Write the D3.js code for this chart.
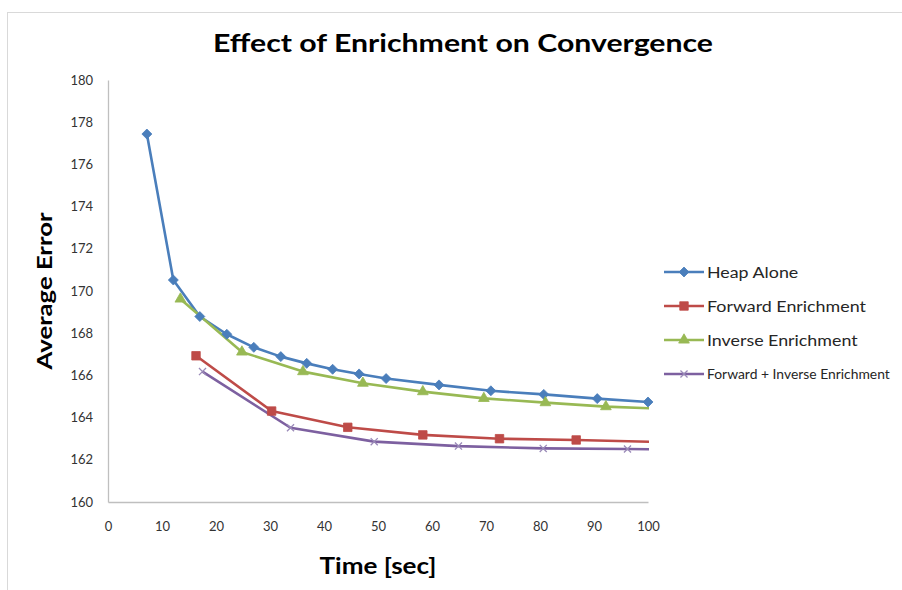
<!DOCTYPE html>
<html>
<head>
<meta charset="utf-8">
<script src="https://cdn.jsdelivr.net/npm/d3@7"></script>
<style>
  html, body { margin: 0; padding: 0; background: #fff; }
  svg { display: block; }
</style>
</head>
<body>
<div id="chart"></div>
<script>
// ---- data ----
const heapX = [7.2, 12.1, 17.0, 22.0, 27.0, 32.0, 36.8, 41.6, 46.5, 51.5, 61.3, 70.9, 80.7, 90.6, 100];
const heapY = [177.44, 170.52, 168.79, 167.95, 167.33, 166.89, 166.57, 166.29, 166.07, 165.85, 165.55, 165.27, 165.10, 164.90, 164.74];

const forwardX = [16.3, 30.3, 44.4, 58.3, 72.5, 86.7, 100.8];
const forwardY = [166.93, 164.31, 163.54, 163.18, 163.00, 162.94, 162.85];

const inverseX = [13.4, 24.8, 36.1, 47.2, 58.3, 69.6, 81.0, 92.2, 103.5];
const inverseY = [169.62, 167.11, 166.18, 165.63, 165.23, 164.91, 164.71, 164.52, 164.41];

const bothX = [17.5, 33.8, 49.3, 64.9, 80.6, 96.2, 111.8];
const bothY = [166.18, 163.52, 162.86, 162.65, 162.54, 162.51, 162.48];

const seriesNames = ["Heap Alone", "Forward Enrichment", "Inverse Enrichment", "Forward + Inverse Enrichment"];
const xTicks = [0, 10, 20, 30, 40, 50, 60, 70, 80, 90, 100];
const yTicks = [160, 162, 164, 166, 168, 170, 172, 174, 176, 178, 180];
const titleText = "Effect of Enrichment on Convergence";
const xTitle = "Time [sec]";
const yTitle = "Average Error";

// ---- layout ----
const W = 902, H = 590;
const plot = { left: 108, right: 648, top: 80, bottom: 502 };
const colors = ["#4A7EBB", "#BE4B48", "#98B954", "#7D60A0"];
const font = "Lato, 'Open Sans', sans-serif";

const svg = d3.select("#chart").append("svg").attr("width", W).attr("height", H);

// outer frame
svg.append("rect").attr("x", 7.5).attr("y", 12.5).attr("width", 1000).attr("height", 1000)
  .attr("fill", "#fff").attr("stroke", "#D9D9D9").attr("stroke-width", 1);

const x = d3.scaleLinear().domain([0, 100]).range([plot.left, plot.right]);
const y = d3.scaleLinear().domain([160, 180]).range([plot.bottom, plot.top]);

// axes
const gy = svg.append("g").attr("transform", `translate(${plot.left},0)`)
  .call(d3.axisLeft(y).tickValues(yTicks).tickSize(0).tickPadding(15).tickFormat(d3.format("d")));
const gx = svg.append("g").attr("transform", `translate(0,${plot.bottom})`)
  .call(d3.axisBottom(x).tickValues(xTicks).tickSize(0).tickPadding(20).tickFormat(d3.format("d")));
[gx, gy].forEach(g => {
  g.select(".domain").attr("stroke", "#BFBFBF").attr("stroke-width", 1.3);
  g.selectAll("text").attr("font-family", font).attr("font-size", 13).attr("fill", "#333");
});

// clip for lines
svg.append("clipPath").attr("id", "plotclip").append("rect")
  .attr("x", plot.left).attr("y", plot.top - 5)
  .attr("width", plot.right - plot.left + 1).attr("height", plot.bottom - plot.top + 10);

// marker symbol types
const diamond = { draw(ctx, size) { const r = Math.sqrt(size / 2); ctx.moveTo(0, -r); ctx.lineTo(r, 0); ctx.lineTo(0, r); ctx.lineTo(-r, 0); ctx.closePath(); } };
const cross = { draw(ctx, size) { const r = Math.sqrt(size) / 2; ctx.moveTo(-r, -r); ctx.lineTo(r, r); ctx.moveTo(r, -r); ctx.lineTo(-r, r); } };
const symbols = [
  { type: diamond, size: 50, fill: true },
  { type: d3.symbolSquare, size: 72, fill: true },
  { type: d3.symbolTriangle, size: 50, fill: true },
  { type: cross, size: 50, fill: false }
];

const allSeries = [
  heapX.map((v, i) => [v, heapY[i]]),
  forwardX.map((v, i) => [v, forwardY[i]]),
  inverseX.map((v, i) => [v, inverseY[i]]),
  bothX.map((v, i) => [v, bothY[i]])
];

const line = d3.line().x(d => x(d[0])).y(d => y(d[1]));
const gLines = svg.append("g").attr("clip-path", "url(#plotclip)");
const gMarks = svg.append("g");

allSeries.forEach((pts, k) => {
  gLines.append("path").datum(pts).attr("d", line)
    .attr("fill", "none").attr("stroke", colors[k]).attr("stroke-width", 2.6)
    .attr("stroke-linejoin", "round");
});
allSeries.forEach((pts, k) => {
  const s = symbols[k];
  gMarks.selectAll(null).data(pts.filter(d => d[0] <= 100)).enter().append("path")
    .attr("transform", d => `translate(${x(d[0])},${y(d[1])})`)
    .attr("d", d3.symbol().type(s.type).size(s.size))
    .attr("fill", s.fill ? colors[k] : "none")
    .attr("stroke", s.fill ? colors[k] : "#9A8AB8")
    .attr("stroke-width", s.fill ? 0.8 : 1.3);
});

// legend
const legY = d3.scalePoint().domain(seriesNames).range([272, 374]);
const leg = svg.append("g");
const legTextX = 707, legMaxRight = W - 12, legFont = 15.5;
seriesNames.forEach((name, k) => {
  const yy = legY(name);
  leg.append("line").attr("x1", 664).attr("x2", 704).attr("y1", yy).attr("y2", yy)
    .attr("stroke", colors[k]).attr("stroke-width", 2.6);
  const s = symbols[k];
  leg.append("path").attr("transform", `translate(684,${yy})`)
    .attr("d", d3.symbol().type(s.type).size(s.size))
    .attr("fill", s.fill ? colors[k] : "none")
    .attr("stroke", s.fill ? colors[k] : "#9A8AB8")
    .attr("stroke-width", s.fill ? 0.8 : 1.3);
  const t = leg.append("text").attr("x", legTextX).attr("y", yy).attr("dy", "0.36em")
    .attr("font-family", font).attr("font-size", legFont).attr("fill", "#262626").text(name);
  // the reference's legend text is horizontally wider than Lato; stretch to match,
  // but shrink a label that would not fit inside the picture
  const natural = t.node().getComputedTextLength();
  const avail = legMaxRight - legTextX;
  if (natural * 1.15 <= avail) {
    t.attr("textLength", natural * 1.15).attr("lengthAdjust", "spacingAndGlyphs");
  } else {
    t.attr("font-size", legFont * Math.min(1, avail / natural));
  }
});

// titles
svg.append("text").attr("x", 463).attr("y", 52).attr("text-anchor", "middle")
  .attr("font-family", font).attr("font-weight", "bold").attr("font-size", 25)
  .attr("textLength", 500).attr("lengthAdjust", "spacingAndGlyphs")
  .attr("fill", "#000").text(titleText);
svg.append("text").attr("x", 378).attr("y", 574).attr("text-anchor", "middle")
  .attr("font-family", font).attr("font-weight", "bold").attr("font-size", 22)
  .attr("textLength", 117).attr("lengthAdjust", "spacingAndGlyphs")
  .attr("fill", "#000").text(xTitle);
svg.append("text").attr("transform", "translate(52,291) rotate(-90)").attr("text-anchor", "middle")
  .attr("font-family", font).attr("font-weight", "bold").attr("font-size", 20)
  .attr("textLength", 157).attr("lengthAdjust", "spacingAndGlyphs")
  .attr("fill", "#000").text(yTitle);
</script>
</body>
</html>
